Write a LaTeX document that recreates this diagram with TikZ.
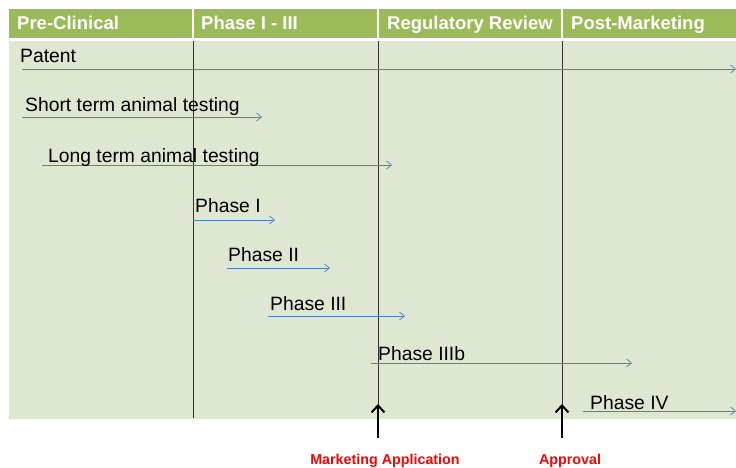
\documentclass[tikz,border=0pt]{standalone}
\usepackage{fontspec}
\setmainfont{Liberation Sans}
\usetikzlibrary{arrows.meta}
\definecolor{hdrgreen}{HTML}{9BBB59}
\definecolor{bodygreen}{HTML}{DEE7D1}
\definecolor{bararrow}{HTML}{4F81BD}
\definecolor{mkred}{HTML}{FF0000}
\begin{document}
\begin{tikzpicture}[x=1pt,y=-1pt,
  hdr/.style={anchor=base west,inner sep=0pt,text=white,font=\fontsize{18.5}{18.5}\selectfont\bfseries},
  lbl/.style={anchor=base west,inner sep=0pt,text=black,font=\fontsize{19.3}{19.3}\selectfont},
  bar/.style={draw=bararrow,line width=0.8pt,-{Straight Barb[length=5pt,width=8pt,line width=0.7pt]}},
  sep/.style={draw=black!80,line width=0.9pt},
  milestone/.style={draw=black,line width=2.2pt,-{Straight Barb[length=7pt,width=13pt,line width=2pt]}},
  red/.style={anchor=base,inner sep=0pt,text=mkred,font=\fontsize{14.3}{14.3}\selectfont\bfseries}]
\useasboundingbox (0,0) rectangle (736,468);
\fill[white] (0,0) rectangle (736,468);
% header band
\fill[hdrgreen] (9,9) rectangle (736,38);
\foreach \xx in {193,378,562} \draw[white,line width=1.2pt] (\xx,9) -- (\xx,38);
% body
\fill[bodygreen] (9,41) rectangle (736,419);
% headers
\node[hdr] (h1) at (17,30) {Pre-Clinical};
\node[hdr] (h2) at (201,30) {Phase I - III};
\node[hdr] (h3) at (387,30) {Regulatory Review};
\node[hdr] (h4) at (571,30) {Post-Marketing};
% vertical separators
\coordinate (s1t) at (193,41); \coordinate (s1b) at (193,418);
\coordinate (s2t) at (378,41); \coordinate (s2b) at (378,405);
\coordinate (s3t) at (562,41); \coordinate (s3b) at (562,405);
\draw[sep] (s1t) -- (s1b);
\draw[sep] (s2t) -- (s2b);
\draw[sep] (s3t) -- (s3b);
% bars
\coordinate (pa) at (22,69);  \coordinate (pb) at (736,69);
\coordinate (sa) at (22,117); \coordinate (sb) at (262,117);
\coordinate (la) at (42,165); \coordinate (lb) at (392,165);
\coordinate (p1a) at (193,220); \coordinate (p1b) at (275,220);
\coordinate (p2a) at (227,268); \coordinate (p2b) at (330,268);
\coordinate (p3a) at (268,316); \coordinate (p3b) at (405,316);
\coordinate (p3ba) at (371,363); \coordinate (p3bb) at (632,363);
\coordinate (p4a) at (583,411); \coordinate (p4b) at (736,411);
\draw[bar] (pa) -- (pb);
\draw[bar] (sa) -- (sb);
\draw[bar] (la) -- (lb);
\draw[bar] (p1a) -- (p1b);
\draw[bar] (p2a) -- (p2b);
\draw[bar] (p3a) -- (p3b);
\draw[bar] (p3ba) -- (p3bb);
\draw[bar] (p4a) -- (p4b);
% labels
\node[lbl] (tpat) at (20,63) {Patent};
\node[lbl] (tst) at (25,112) {Short term animal testing};
\node[lbl] (tlt) at (48,162) {Long term animal testing};
\node[lbl] (tp1) at (195,212) {Phase I};
\node[lbl] (tp2) at (228,261) {Phase II};
\node[lbl] (tp3) at (270,310) {Phase III};
\node[lbl] (tp3b) at (378,360) {Phase IIIb};
\node[lbl] (tp4) at (590,409) {Phase IV};
% milestones
\coordinate (m1b) at (378,438); \coordinate (m1t) at (378,404);
\coordinate (m2b) at (562,438); \coordinate (m2t) at (562,404);
\draw[milestone] (m1b) -- (m1t);
\draw[milestone] (m2b) -- (m2t);
\node[red] (ma) at (385,464) {Marketing Application};
\node[red] (ap) at (570,464) {Approval};
\end{tikzpicture}
\end{document}
